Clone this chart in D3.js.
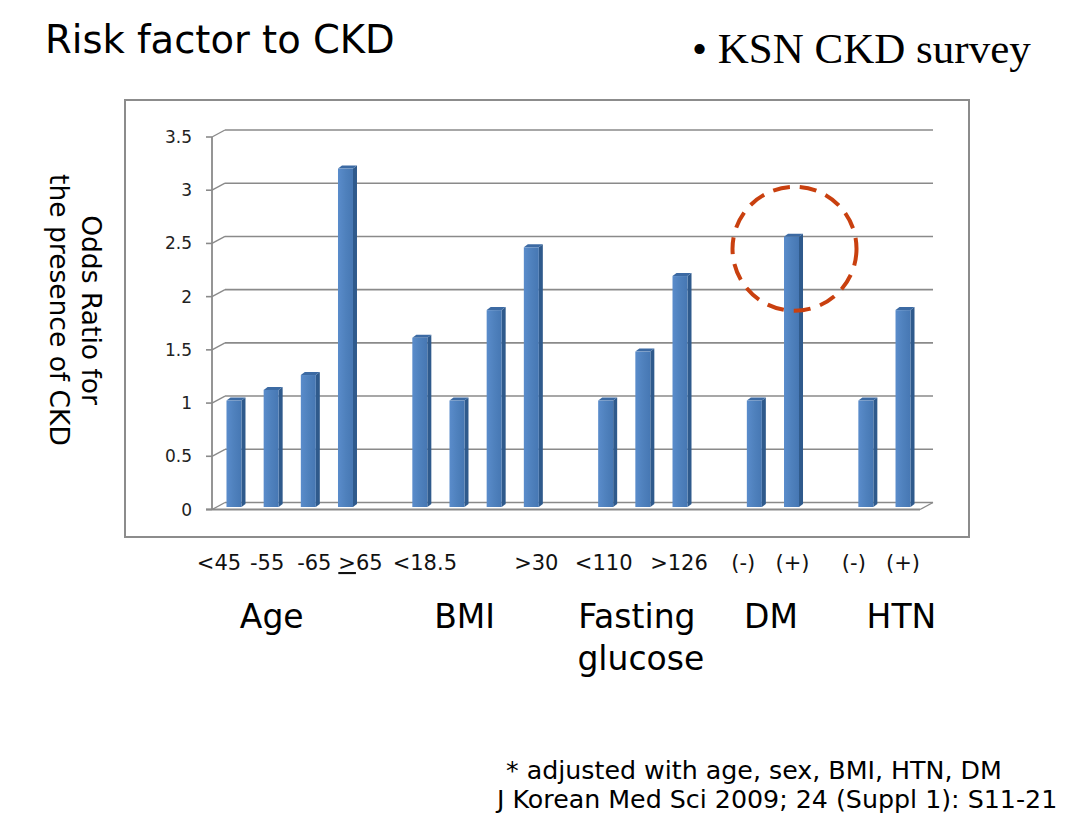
<!DOCTYPE html>
<html><head><meta charset="utf-8">
<script src="https://cdn.jsdelivr.net/npm/d3@7"></script>
<style>body{margin:0;background:#fff;} svg{display:block;}</style>
</head><body>
<svg id="c" width="1085" height="816"></svg>
<script>
// ---- data ----
const categories = ["<45","45-55","55-65",">=65","gap1","<18.5","18.5-25","25-30",">30","gap2","<110","110-126",">126","gap3","DM-","DM+","gap4","HTN-","HTN+"];
const oddsRatio  = [1.0, 1.1, 1.24, 3.18, null, 1.59, 1.0, 1.85, 2.44, null, 1.0, 1.46, 2.17, null, 1.0, 2.54, null, 1.0, 1.85];
const tickLabels = ["<45","-55","-65","≥65","","<18.5","","",">30","","<110","",">126","","(-)","(+)","","(-)","(+)"];
const yTicks = [0, 0.5, 1, 1.5, 2, 2.5, 3, 3.5];
const groups = [
  {name:["Age"], first:"<45", last:">=65"},
  {name:["BMI"], first:"<18.5", last:">30"},
  {name:["Fasting","glucose"], first:"<110", last:">126"},
  {name:["DM"], first:"DM-", last:"DM+"},
  {name:["HTN"], first:"HTN-", last:"HTN+"}
];
const highlight = {cat:"DM+", value:2.45};

// ---- layout ----
const svg = d3.select("#c");
const sans = "'DejaVu Sans',sans-serif";
const x = d3.scaleBand().domain(categories).range([217.4, 923.6]).padding(0);
const y = d3.scaleLinear().domain([0, 3.5]).range([509.5, 137]);
const depth = {dx: 13, dy: -7};
const barDepth = {dx: 0, dy: -2.5};
const cx = c => x(c) + x.bandwidth()/2;
const labelNudge = [-17,-6,4,13,0,3,0,0,3,0,-4,0,-3,0,-13,-1,0,-14,-2];
const groupNudge = [-20,-13,-8,-4,15];
const gridColor = "#8a8a8a";

// chart frame
svg.append("rect").attr("x",125).attr("y",100).attr("width",844).attr("height",437)
  .attr("fill","none").attr("stroke","#8c8c8c").attr("stroke-width",2);

const xLeft = x.range()[0] - 5.4, xRight = x.range()[1] - 3.6;
const g = svg.append("g");
yTicks.forEach(t => {
  const yy = y(t);
  if (t > 0) {
    g.append("line").attr("x1", xLeft+depth.dx).attr("x2", xRight+depth.dx)
      .attr("y1", yy+depth.dy).attr("y2", yy+depth.dy).attr("stroke",gridColor).attr("stroke-width",1.6);
  }
  g.append("line").attr("x1", xLeft).attr("y1", yy).attr("x2", xLeft+depth.dx).attr("y2", yy+depth.dy)
    .attr("stroke",gridColor).attr("stroke-width",1.4);
  g.append("line").attr("x1", xLeft-6).attr("x2", xLeft).attr("y1", yy).attr("y2", yy)
    .attr("stroke",gridColor).attr("stroke-width",1.6);
  g.append("text").attr("x", xLeft-20).attr("y", yy+6).attr("text-anchor","end")
    .attr("font-family",sans).attr("font-size",17).attr("fill","#222").text(t);
});
// floor
g.append("line").attr("x1", xLeft+depth.dx).attr("x2", xRight+depth.dx)
  .attr("y1", y(0)+depth.dy).attr("y2", y(0)+depth.dy).attr("stroke",gridColor).attr("stroke-width",1.4);
g.append("line").attr("x1", xRight).attr("y1", y(0)).attr("x2", xRight+depth.dx).attr("y2", y(0)+depth.dy)
  .attr("stroke",gridColor).attr("stroke-width",1.4);
// front axis
g.append("line").attr("x1", xLeft).attr("x2", xLeft).attr("y1", y(3.5)).attr("y2", y(0))
  .attr("stroke",gridColor).attr("stroke-width",1.8);
g.append("line").attr("x1", xLeft-6).attr("x2", xRight).attr("y1", y(0)).attr("y2", y(0))
  .attr("stroke",gridColor).attr("stroke-width",2);

// bars (3D columns)
const defs = svg.append("defs");
const grad = defs.append("linearGradient").attr("id","front").attr("x1","0").attr("x2","1");
grad.append("stop").attr("offset","0").attr("stop-color","#5a8ccb");
grad.append("stop").attr("offset","0.5").attr("stop-color","#4f81bd");
grad.append("stop").attr("offset","1").attr("stop-color","#4677b3");
const fw = 15, sw = 4, th = 3;
const bars = g.append("g");
categories.forEach((c, i) => {
  const v = oddsRatio[i];
  if (v == null) return;
  const x0 = cx(c) - 9.5 + barDepth.dx;
  const yTop = y(v) + barDepth.dy, yBot = y(0) + barDepth.dy;
  bars.append("path").attr("d", `M${x0+fw},${yTop} L${x0+fw+sw},${yTop-th} L${x0+fw+sw},${yBot-th} L${x0+fw},${yBot} Z`)
    .attr("fill","#2f5a8c");
  bars.append("path").attr("d", `M${x0},${yTop} L${x0+sw},${yTop-th} L${x0+fw+sw},${yTop-th} L${x0+fw},${yTop} Z`)
    .attr("fill","#3c6aa3");
  bars.append("rect").attr("x", x0).attr("y", yTop).attr("width", fw).attr("height", yBot - yTop)
    .attr("fill","url(#front)");
});

// dashed highlight circle
svg.append("circle").attr("cx", cx(highlight.cat)+1).attr("cy", y(highlight.value))
  .attr("r", 62).attr("fill","none").attr("stroke","#c9400f").attr("stroke-width",4)
  .attr("stroke-dasharray","17 10");

// category tick labels
categories.forEach((c, i) => {
  const t = tickLabels[i];
  if (!t) return;
  const tx = svg.append("text").attr("x", cx(c) + labelNudge[i]).attr("y", 570)
    .attr("text-anchor","middle").attr("font-family",sans).attr("font-size",21).attr("fill","#111");
  if (t.startsWith("≥")) {
    tx.append("tspan").attr("text-decoration","underline").text(">");
    tx.append("tspan").text(t.slice(1));
  } else tx.text(t);
});

// group labels
groups.forEach((gr, i) => {
  const mid = (cx(gr.first) + cx(gr.last)) / 2 + groupNudge[i];
  gr.name.forEach((line, j) => {
    svg.append("text").attr("x", mid + (j ? 4 : 0)).attr("y", 628 + j*42).attr("text-anchor","middle")
      .attr("font-family",sans).attr("font-size",33).attr("fill","#000").text(line);
  });
});

// y-axis title (rotated)
const yt = svg.append("g").attr("transform","translate(82,310) rotate(90)");
yt.append("text").attr("x",0).attr("y",0).attr("text-anchor","middle").attr("font-family",sans)
  .attr("font-size",26.5).attr("fill","#000").text("Odds Ratio for");
yt.append("text").attr("x",0).attr("y",32).attr("text-anchor","middle").attr("font-family",sans)
  .attr("font-size",26.5).attr("fill","#000").text("the presence of CKD");

// titles
svg.append("text").attr("x",45).attr("y",53).attr("font-family",sans).attr("font-size",38.5)
  .attr("fill","#000").text("Risk factor to CKD");
svg.append("text").attr("x",692).attr("y",63).attr("font-family","'Liberation Serif','Times New Roman',serif")
  .attr("font-size",43).attr("fill","#000").text("• KSN CKD survey");

// footnotes
svg.append("text").attr("x",506).attr("y",779).attr("font-family",sans).attr("font-size",25.3)
  .attr("fill","#000").text("* adjusted with age, sex, BMI, HTN, DM");
svg.append("text").attr("x",497).attr("y",808).attr("font-family",sans).attr("font-size",25.3)
  .attr("fill","#000").text("J Korean Med Sci 2009; 24 (Suppl 1): S11-21");
</script>
</body></html>
